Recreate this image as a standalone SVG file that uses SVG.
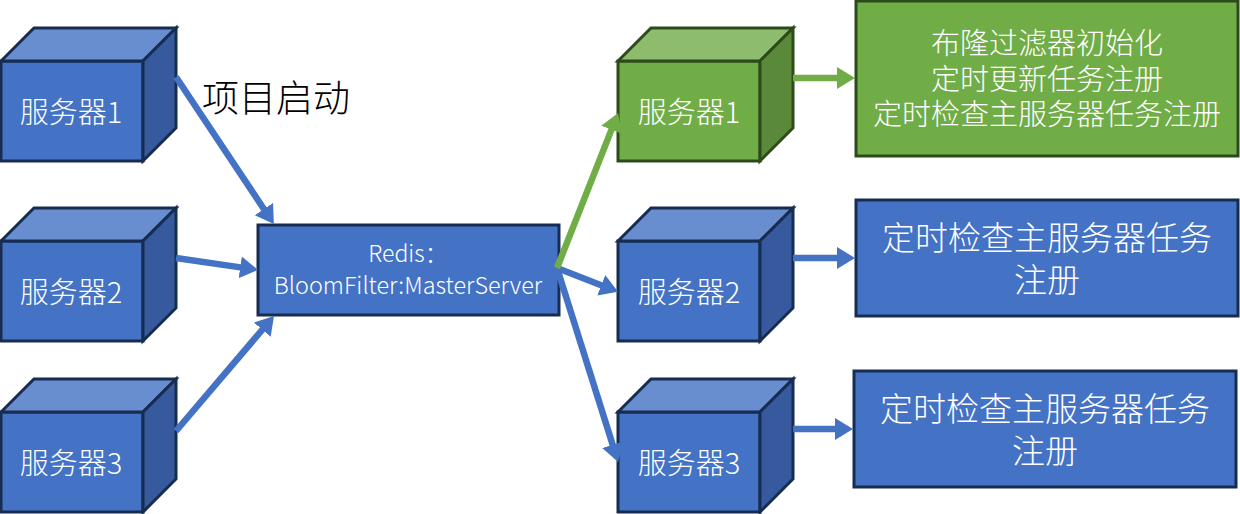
<svg xmlns="http://www.w3.org/2000/svg" width="1240" height="514" viewBox="0 0 1240 514">
<style>
text{font-family:"Noto Sans CJK SC","Noto Sans",sans-serif;text-anchor:middle;font-weight:300}
.w{fill:#fff}
.b{stroke:#172C51;stroke-width:3;stroke-linejoin:miter}
.g{stroke:#2D4A1B;stroke-width:3;stroke-linejoin:miter}
.bf{fill:#4472C4}.bt{fill:#698ED0}.bs{fill:#365A9D}
.gf{fill:#70AD47}.gt{fill:#8DBD6C}.gs{fill:#5A8A39}
.s{font-size:29px}.l{font-size:33px}.t{font-size:29px}
.cb{stroke:#4472C4;stroke-width:6.5;fill:none;marker-end:url(#ab)}
.cg{stroke:#70AD47;stroke-width:6.5;fill:none;marker-end:url(#ag)}
</style>
<defs>
<marker id="ab" markerUnits="userSpaceOnUse" markerWidth="24" markerHeight="24" refX="2" refY="12" orient="auto"><path d="M0 1L18 12L0 23Z" fill="#4472C4"/></marker>
<marker id="ag" markerUnits="userSpaceOnUse" markerWidth="24" markerHeight="24" refX="2" refY="12" orient="auto"><path d="M0 1L18 12L0 23Z" fill="#70AD47"/></marker>
<g id="cubeB"><rect class="b bf" x="0" y="33" width="142" height="100"/><path class="b bt" d="M0 33L33 0H175L142 33Z"/><path class="b bs" d="M142 33L175 0V100L142 133Z"/></g>
<g id="cubeG"><rect class="g gf" x="0" y="33" width="142" height="100"/><path class="g gt" d="M0 33L33 0H175L142 33Z"/><path class="g gs" d="M142 33L175 0V100L142 133Z"/></g>
</defs>
<g id="s1"><use href="#cubeB" x="1" y="28"/><text class="s w" x="71" y="123">服务器1</text></g>
<g id="s2"><use href="#cubeB" x="1" y="208"/><text class="s w" x="71" y="303">服务器2</text></g>
<g id="s3"><use href="#cubeB" x="1" y="379"/><text class="s w" x="71" y="474">服务器3</text></g>
<g id="label"><text x="276" y="112" font-size="37" fill="#000">项目启动</text></g>
<g id="redis"><rect class="b bf" x="258" y="225" width="301" height="90"/><text class="w" x="408" y="262" font-size="23">Redis：</text><text class="w" x="408" y="294" font-size="23.4">BloomFilter:MasterServer</text></g>
<g id="t1"><use href="#cubeG" x="618" y="28"/><text class="s w" x="689" y="123">服务器1</text></g>
<g id="t2"><use href="#cubeB" x="618" y="208"/><text class="s w" x="689" y="303">服务器2</text></g>
<g id="t3"><use href="#cubeB" x="618" y="379"/><text class="s w" x="689" y="474">服务器3</text></g>
<g id="r1"><rect class="g gf" x="856" y="1" width="382" height="155"/><text class="t w" x="1047" y="54">布隆过滤器初始化</text><text class="t w" x="1047" y="90">定时更新任务注册</text><text class="t w" x="1047" y="125">定时检查主服务器任务注册</text></g>
<g id="r2"><rect class="b bf" x="856" y="200" width="382" height="116"/><text class="l w" x="1047" y="250">定时检查主服务器任务</text><text class="l w" x="1047" y="292">注册</text></g>
<g id="r3"><rect class="b bf" x="854" y="371" width="382" height="116"/><text class="l w" x="1045" y="421">定时检查主服务器任务</text><text class="l w" x="1045" y="463">注册</text></g>
<g id="connectors">
<path class="cb" d="M176 77L265 210.7"/>
<path class="cb" d="M176 258L242.2 267.6"/>
<path class="cb" d="M176 431L263.6 328.2"/>
<path class="cb" d="M557 268L603.1 286"/>
<path class="cb" d="M557 268L613.3 446.7"/>
<path class="cg" d="M557 268L612.2 127.9"/>
<path class="cg" d="M793 78H839"/>
<path class="cb" d="M793 258H839"/>
<path class="cb" d="M793 429H837"/>
</g>
</svg>
